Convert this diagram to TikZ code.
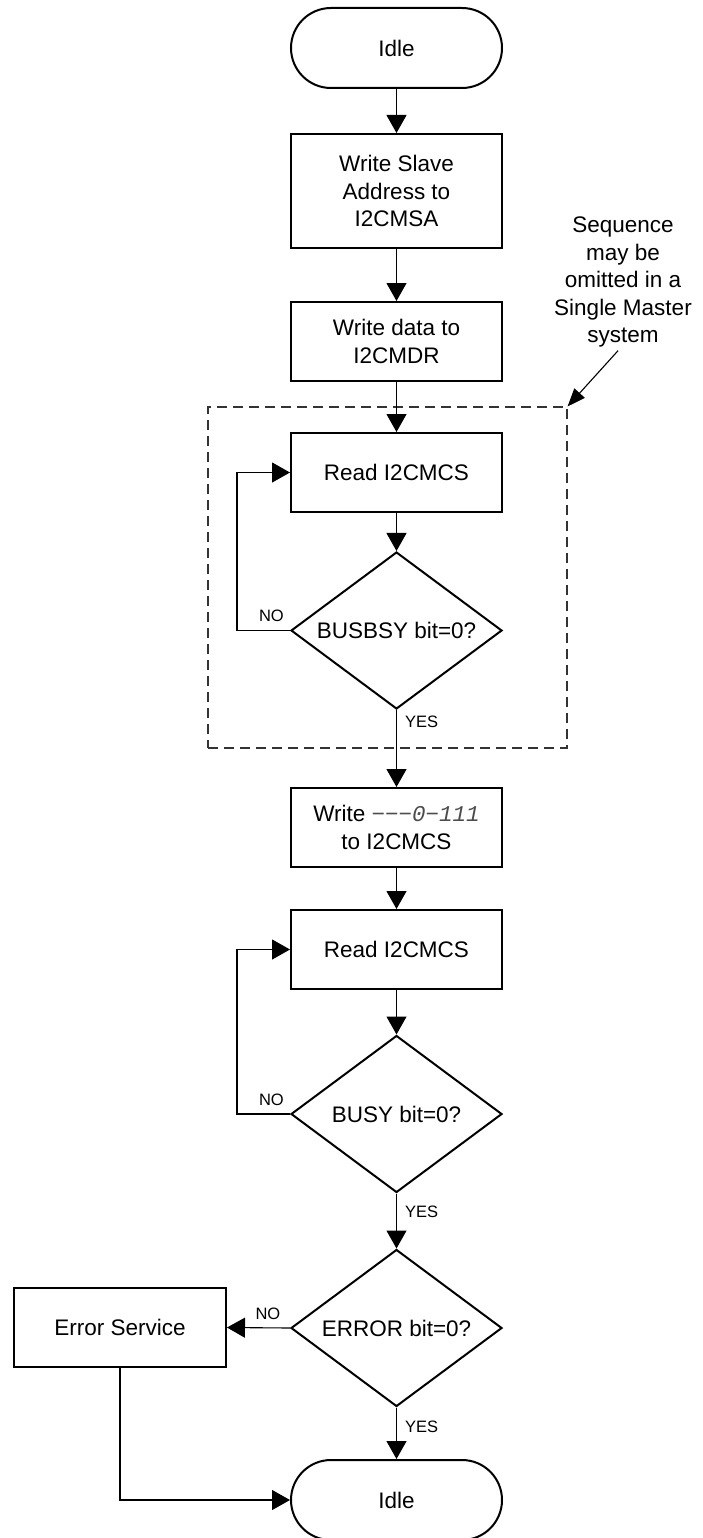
\documentclass[tikz,border=0pt]{standalone}
\usepackage{fontspec}
\setmainfont{Liberation Sans}
\newfontfamily\codefont{Liberation Mono}
\usetikzlibrary{shapes.geometric,arrows.meta}

\begin{document}
\begin{tikzpicture}[x=1pt,y=-1pt,
		every node/.style={font=\fontsize{22.5}{27.5}\selectfont},
		terminal/.style={draw,line width=2pt,rounded corners=40pt,minimum width=211pt,minimum height=80pt,inner sep=0pt},
		flowbox/.style={draw,line width=2pt,minimum width=211pt,minimum height=79pt,align=center,inner sep=0pt},
		decision/.style={draw,shape=diamond,line width=2pt,aspect=1.344,minimum width=211pt,minimum height=157pt,inner sep=0pt},
		flow/.style={line width=1.1pt,-{Triangle[length=18pt,width=20pt]}},
		pointer/.style={line width=1.1pt,-{Triangle[length=18pt,width=14pt]}},
		seqframe/.style={draw=black!80,line width=1.1pt,dash pattern=on 10pt off 6pt,minimum width=359pt,minimum height=341pt,inner sep=0pt},
		lbl/.style={font=\fontsize{16.5}{19}\selectfont,inner sep=3pt}]
	\useasboundingbox (0,0) rectangle (703,1538);
	% optional sequence frame
	\node[seqframe] (seq) at (387.5,577.5) {};
	\node[align=center] (note) at (623,282) {Sequence\\may be\\omitted in a\\Single Master\\system};
	% steps
	\node[terminal] (idle1) at (396.5,48) {Idle};
	\node[flowbox,minimum height=114pt] (slave) at (396.5,191) {Write Slave\\Address to\\I2CMSA};
	\node[flowbox] (data) at (396.5,341.5) {Write data to\\I2CMDR};
	\node[flowbox] (read1) at (396.5,472.5) {Read I2CMCS};
	\node[decision] (busbsy) at (396.5,630.5) {BUSBSY bit=0?};
	\node[flowbox] (write) at (396.5,827.5) {Write {\codefont\itshape\color{black!70}−−−0−111}\\to I2CMCS};
	\node[flowbox] (read2) at (396.5,949.5) {Read I2CMCS};
	\node[decision] (busy) at (396.5,1114) {BUSY bit=0?};
	\node[decision] (error) at (396.5,1328) {ERROR bit=0?};
	\node[flowbox,minimum width=212pt] (service) at (120,1327.5) {Error Service};
	\node[terminal] (idle2) at (396.5,1500) {Idle};
	% connectors
	\draw[pointer] ([xshift=-5pt]note.south) -- (seq.north east);
	\draw[flow] (idle1) -- (slave);
	\draw[flow] (slave) -- (data);
	\draw[flow] (data) -- (read1);
	\draw[flow] (read1) -- (busbsy);
	\draw[flow] (busbsy.west) -- node[lbl,above=5pt,pos=0.35]{NO} ++(-53,0) |- (read1.west);
	\draw[flow] (busbsy.south) -- node[lbl,right=5pt,pos=0.15]{YES} (write.north);
	\draw[flow] (write) -- (read2);
	\draw[flow] (read2) -- (busy);
	\draw[flow] (busy.west) -- node[lbl,above=5pt,pos=0.35]{NO} ++(-53,0) |- (read2.west);
	\draw[flow] (busy.south) -- node[lbl,right=5pt,pos=0.34]{YES} (error.north);
	\draw[flow] (error.west) -- node[lbl,above=5pt,pos=0.35]{NO} (service.east);
	\draw[flow] (error.south) -- node[lbl,right=5pt,pos=0.375]{YES} (idle2.north);
	\draw[flow] (service.south) |- (idle2.west);
\end{tikzpicture}
\end{document}
